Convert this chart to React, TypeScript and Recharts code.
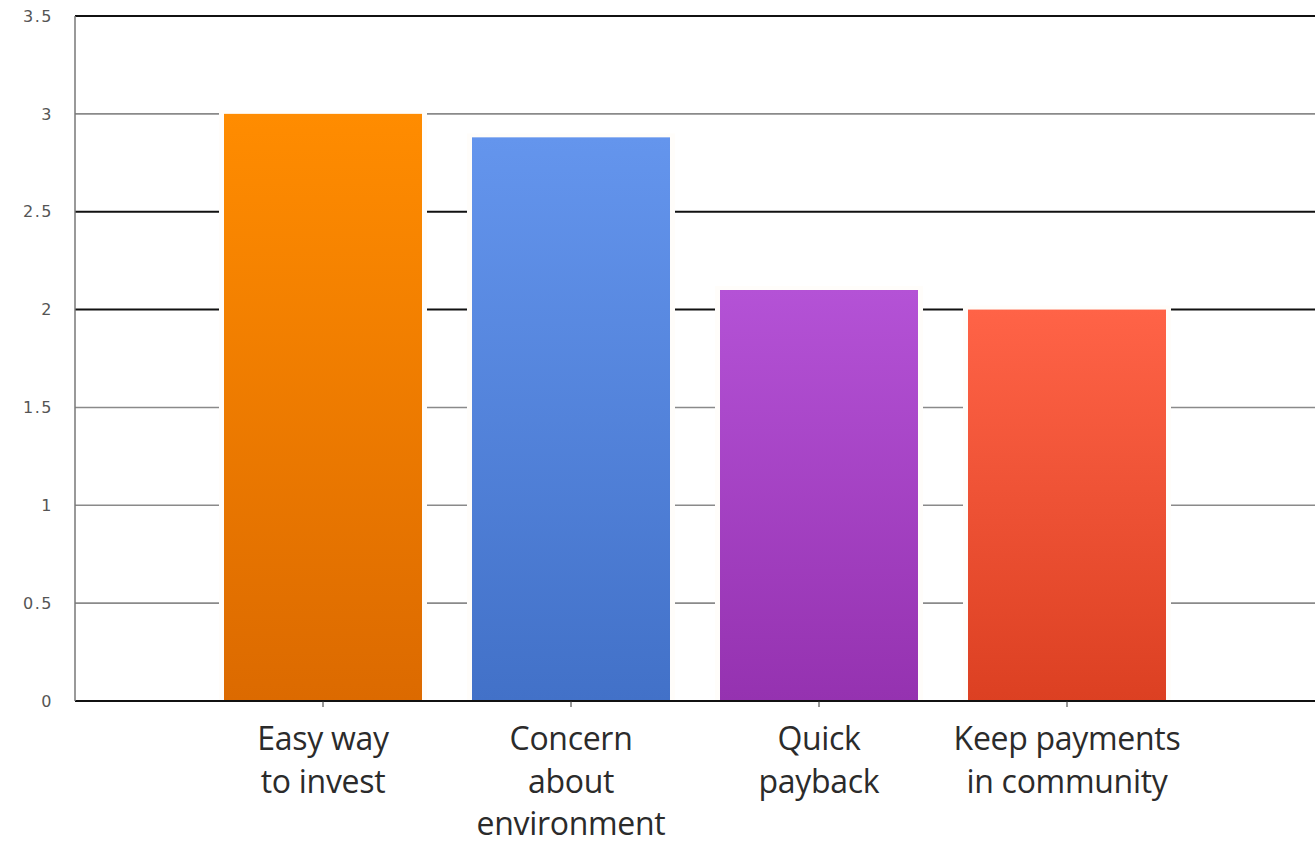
import { Bar, BarChart, CartesianGrid, Cell, XAxis, YAxis } from 'recharts';

const categories = [
  'Easy way\nto invest',
  'Concern\nabout\nenvironment',
  'Quick\npayback',
  'Keep payments\nin community',
];
const scores = [3.0, 2.88, 2.1, 2.0];
const yTicks = [0, 0.5, 1, 1.5, 2, 2.5, 3, 3.5];

const topColors = ['#ff8c00', '#6495ed', '#b452d6', '#ff6347'];
const bottomColors = ['#dc6a00', '#4271c8', '#9532b0', '#dc4022'];

const data = categories.map((label, i) => ({ label, value: scores[i] }));

// the original alternates dark/grey gridlines, keyed by tick value
const darkLines = [0, 2, 2.5, 3.5];

function CategoryTick(props: any) {
  const { x, y, payload } = props;
  const lines = String(payload.value).split('\n');
  return (
    <text
      x={x}
      y={y + 41}
      textAnchor="middle"
      fill="#2b2b2b"
      fontSize={32}
      fontFamily="'Open Sans', sans-serif"
      letterSpacing={-0.3}
    >
      {lines.map((line, i) => (
        <tspan key={i} x={x} dy={i === 0 ? 0 : 42.5}>
          {line}
        </tspan>
      ))}
    </text>
  );
}

function HaloBar(props: any) {
  const { x, y, width, height, fill } = props;
  if (!height) return null;
  return (
    <g>
      <rect x={x - 5} y={y - 4} width={width + 10} height={height + 4} fill="#fffdfa" />
      <rect x={x} y={y} width={width} height={height} fill={fill} />
    </g>
  );
}

function GridLine(props: any) {
  const { x1, x2, y1, y2, index } = props;
  const dark = darkLines.includes(yTicks[index]);
  return (
    <line
      x1={x1}
      x2={x2}
      y1={y1}
      y2={y2}
      stroke={dark ? '#111' : '#8a8a8a'}
      strokeWidth={dark ? 2 : 1.6}
    />
  );
}

export default function App() {
  return (
    <div style={{ background: '#fff', width: 1316, height: 844 }}>
      <style>{'body{margin:0;overflow:hidden}'}</style>
      <BarChart
        width={1316}
        height={844}
        data={data}
        margin={{ top: 16, right: 1, bottom: 0, left: 0 }}
      >
        <defs>
          {topColors.map((c, i) => (
            <linearGradient key={i} id={`grad${i}`} x1="0" y1="0" x2="0" y2="1">
              <stop offset="0%" stopColor={c} />
              <stop offset="100%" stopColor={bottomColors[i]} />
            </linearGradient>
          ))}
        </defs>
        <CartesianGrid vertical={false} horizontal={(p: any) => <GridLine key={p.key ?? p.index} {...p} />} />
        <XAxis
          dataKey="label"
          height={143}
          padding={{ left: 124, right: 124 }}
          tick={<CategoryTick />}
          tickSize={6}
          tickLine={{ stroke: '#333' }}
          axisLine={{ stroke: '#111', strokeWidth: 2 }}
          interval={0}
        />
        <YAxis
          type="number"
          domain={[0, 3.5]}
          ticks={yTicks}
          width={75}
          tickSize={0}
          tickMargin={22}
          tickLine={false}
          axisLine={{ stroke: '#777', strokeWidth: 1.5 }}
          tick={{ fill: '#555', fontSize: 16, fontFamily: 'Verdana, DejaVu Sans, sans-serif', letterSpacing: 1.5 }}
        />
        <Bar dataKey="value" barSize={198} shape={<HaloBar />} isAnimationActive={false}>
          {data.map((_, i) => (
            <Cell key={i} fill={`url(#grad${i})`} />
          ))}
        </Bar>
      </BarChart>
    </div>
  );
}
